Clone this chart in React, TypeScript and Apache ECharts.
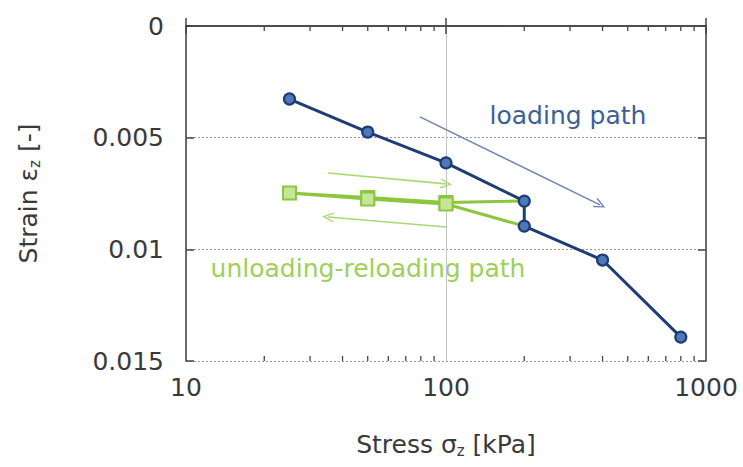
import React, { useEffect, useRef } from "react";
import * as echarts from "echarts";

// Loading path (blue): stress [kPa], strain [-]
const LOADING_STRESS = [25, 50, 100, 200, 200, 400, 800];
const LOADING_STRAIN = [0.00327, 0.00475, 0.00613, 0.00784, 0.00896, 0.01048, 0.01393];

// Unloading-reloading path (green)
const UNLOAD_STRESS = [200, 100, 50, 25, 50, 100, 200];
const UNLOAD_STRAIN = [0.00784, 0.0079, 0.00768, 0.00748, 0.00775, 0.00797, 0.00896];

// Annotation arrows in data coordinates: [x1, y1, x2, y2]
const LOADING_ARROW = [79.4, 0.00407, 391, 0.00801];
const RELOAD_ARROW = [35.2, 0.00658, 100, 0.00707];
const UNLOAD_ARROW = [100, 0.009, 35.2, 0.00855];

const X_MIN = 10;
const X_MAX = 1000;
const Y_MIN = 0;
const Y_MAX = 0.015;
const Y_STEP = 0.005;
const MINOR_TICKS = [20, 30, 40, 50, 60, 70, 80, 90, 200, 300, 400, 500, 600, 700, 800, 900];

const FONT = "DejaVu Sans";
const AXIS_COLOR = "#454545";
const TEXT_COLOR = "#3a3a3a";
const BLUE = "#1f3d75";
const BLUE_FILL = "#4d79b8";
const GREEN = "#8cc63f";
const GREEN_FILL = "#c4e696";
const CHEVRON = "path://M6,0 L12,11 L10.8,12.2 L6,3.2 L1.2,12.2 L0,11 Z";

function arrow(a: number[], color: string) {
  return [
    { coord: [a[0], a[1]], symbol: "none", lineStyle: { color, width: 1.6, type: "solid" } },
    { coord: [a[2], a[3]], symbol: CHEVRON, symbolSize: [10, 12], itemStyle: { color } },
  ];
}

export default function App() {
  const ref = useRef<HTMLDivElement>(null);
  useEffect(() => {
    if (!ref.current) return;
    const chart = echarts.init(ref.current, undefined, { renderer: "svg" });
    const loading = LOADING_STRESS.map((x, i) => [x, LOADING_STRAIN[i]]);
    const unload = UNLOAD_STRESS.map((x, i) => ({
      value: [x, UNLOAD_STRAIN[i]],
      symbol: x === 200 ? "none" : "rect",
    }));
    const axisLine = { show: true, lineStyle: { color: AXIS_COLOR, width: 1.5 } };
    const labelStyle = { color: TEXT_COLOR, fontSize: 25, fontFamily: FONT };
    chart.setOption({
      animation: false,
      backgroundColor: "#ffffff",
      textStyle: { fontFamily: FONT },
      grid: { left: 186, right: 37, top: 26, bottom: 106, containLabel: false },
      xAxis: [
        {
          type: "log",
          logBase: 10,
          min: X_MIN,
          max: X_MAX,
          position: "bottom",
          axisLine,
          axisTick: { show: true, inside: true, length: 8, lineStyle: { color: AXIS_COLOR, width: 1.5 } },
          axisLabel: { ...labelStyle, margin: 14, formatter: (v: number) => String(v) },
          splitLine: { show: true, lineStyle: { color: "#c4c4c4", width: 1 } },
          name: "Stress σ{sub|z} [kPa]",
          nameLocation: "middle",
          nameGap: 70,
          nameTextStyle: {
            color: TEXT_COLOR,
            fontSize: 25,
            fontFamily: FONT,
            rich: { sub: { fontSize: 15, fontFamily: FONT, color: TEXT_COLOR, padding: [12, 0, 0, 0] } },
          },
        },
        {
          type: "log",
          logBase: 10,
          min: X_MIN,
          max: X_MAX,
          position: "top",
          axisLine,
          axisTick: { show: true, inside: true, length: 8, lineStyle: { color: AXIS_COLOR, width: 1.5 } },
          axisLabel: { show: false },
          splitLine: { show: false },
        },
      ],
      yAxis: [
        {
          type: "value",
          inverse: true,
          min: Y_MIN,
          max: Y_MAX,
          interval: Y_STEP,
          position: "left",
          axisLine,
          axisTick: { show: true, inside: true, length: 8, lineStyle: { color: AXIS_COLOR, width: 1.5 } },
          axisLabel: { ...labelStyle, margin: 22 },
          splitLine: { show: true, lineStyle: { color: "#9a9a9a", width: 1, type: [2, 2] } },
          name: "Strain ε{sub|z} [-]",
          nameLocation: "middle",
          nameRotate: 90,
          nameGap: 144,
          nameTextStyle: {
            color: TEXT_COLOR,
            fontSize: 25,
            fontFamily: FONT,
            rich: { sub: { fontSize: 15, fontFamily: FONT, color: TEXT_COLOR, padding: [12, 0, 0, 0] } },
          },
        },
        {
          type: "value",
          inverse: true,
          min: Y_MIN,
          max: Y_MAX,
          interval: Y_STEP,
          position: "right",
          axisLine,
          axisTick: { show: true, inside: true, length: 8, lineStyle: { color: AXIS_COLOR, width: 1.5 } },
          axisLabel: { show: false },
          splitLine: { show: false },
        },
      ],
      series: [
        {
          type: "custom",
          xAxisIndex: 0,
          yAxisIndex: 0,
          silent: true,
          data: MINOR_TICKS.map((v) => [v, Y_MIN]),
          encode: { x: 0, y: 1 },
          renderItem: (params: any, api: any) => {
            const v = api.value(0);
            const b = api.coord([v, Y_MAX]);
            const t = api.coord([v, Y_MIN]);
            const style = { stroke: AXIS_COLOR, lineWidth: 1.3 };
            return {
              type: "group",
              children: [
                { type: "line", shape: { x1: b[0], y1: b[1], x2: b[0], y2: b[1] - 5 }, style },
                { type: "line", shape: { x1: t[0], y1: t[1], x2: t[0], y2: t[1] + 5 }, style },
              ],
            };
          },
        },
        {
          name: "unloading-reloading path",
          type: "line",
          xAxisIndex: 0,
          yAxisIndex: 0,
          data: unload,
          symbolSize: 13,
          lineStyle: { color: GREEN, width: 3 },
          itemStyle: { color: GREEN_FILL, borderColor: GREEN, borderWidth: 2 },
          z: 3,
        },
        {
          name: "loading path",
          type: "line",
          xAxisIndex: 0,
          yAxisIndex: 0,
          data: loading,
          symbol: "circle",
          symbolSize: 11,
          lineStyle: { color: BLUE, width: 3 },
          itemStyle: { color: BLUE_FILL, borderColor: BLUE, borderWidth: 2.2 },
          z: 4,
        },
        {
          type: "line",
          xAxisIndex: 0,
          yAxisIndex: 0,
          data: [],
          silent: true,
          markLine: {
            silent: true,
            animation: false,
            label: { show: false },
            data: [
              arrow(LOADING_ARROW, "#6f86b2"),
              arrow(RELOAD_ARROW, "#a9d873"),
              arrow(UNLOAD_ARROW, "#a9d873"),
            ],
          },
        },
      ],
      graphic: [
        {
          type: "text",
          x: 568,
          y: 115,
          style: {
            text: "loading path",
            fill: "#3d5f95",
            fontSize: 25,
            fontFamily: FONT,
            align: "center",
            verticalAlign: "middle",
          },
        },
        {
          type: "text",
          x: 368,
          y: 268,
          style: {
            text: "unloading-reloading path",
            fill: "#9dd05a",
            fontSize: 25,
            fontFamily: FONT,
            align: "center",
            verticalAlign: "middle",
          },
        },
      ],
    });
    return () => chart.dispose();
  }, []);
  return (
    <div
      ref={ref}
      style={{ position: "absolute", left: 0, top: 0, width: 743, height: 467 }}
    />
  );
}
